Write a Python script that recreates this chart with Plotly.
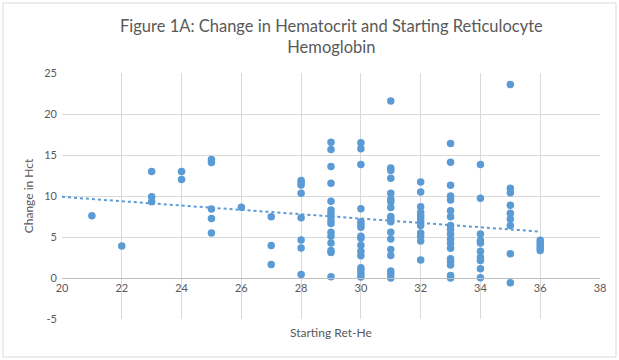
import numpy as np
import plotly.graph_objects as go

# Data (Starting Ret-He, Change in Hct)
ret_he = (
    [21] + [22] + [23]*3 + [24]*2 + [25]*5 + [26] + [27]*3 + [28]*8 +
    [29]*16 + [30]*16 + [31]*18 + [32]*12 + [33]*18 + [34]*10 + [35]*9 + [36]*5
)
change_hct = (
    [7.6] +
    [3.9] +
    [13.0, 9.9, 9.3] +
    [13.0, 12.0] +
    [14.45, 14.1, 8.4, 7.27, 5.5] +
    [8.64] +
    [7.47, 3.95, 1.65] +
    [11.9, 11.6, 11.35, 10.35, 7.35, 4.64, 3.67, 0.44] +
    [16.56, 15.67, 13.6, 11.55, 9.37, 8.28, 7.9, 7.47, 6.98, 6.66, 5.57, 5.09, 4.28, 3.35, 3.1, 0.16] +
    [16.48, 15.75, 13.85, 8.44, 6.86, 6.5, 6.2, 5.09, 4.85, 4.0, 3.27, 2.7, 1.25, 0.92, 0.52, 0.12] +
    [21.6, 13.4, 13.1, 12.16, 10.34, 9.6, 9.3, 8.6, 7.5, 7.2, 6.86, 5.57, 4.76, 3.47, 2.74, 0.85, 0.48, 0.0] +
    [11.7, 10.5, 8.68, 8.0, 7.6, 7.2, 6.8, 6.4, 5.5, 5.09, 4.52, 2.2] +
    [16.4, 14.13, 11.3, 10.0, 9.5, 8.2, 7.47, 6.4, 5.9, 5.37, 4.76, 4.24, 3.63, 2.34, 2.0, 1.6, 0.32, 0.0] +
    [13.85, 9.73, 5.37, 4.56, 4.28, 3.27, 2.54, 2.13, 1.13, 0.04] +
    [23.6, 10.95, 10.4, 8.88, 7.9, 7.2, 6.4, 2.95, -0.57] +
    [4.6, 4.28, 3.95, 3.63, 3.35]
)
x_ticks = [20, 22, 24, 26, 28, 30, 32, 34, 36, 38]
y_ticks = [-5, 0, 5, 10, 15, 20, 25]
y_tick_labels = ["-5", "0", "5", "10", "15", "20", "25"]
trend_x = [20, 36]

title = "Figure 1A: Change in Hematocrit and Starting Reticulocyte<br>Hemoglobin"
x_title = "Starting Ret-He"
y_title = "Change in Hct"

blue = "#5B9BD5"
grey_text = "#595959"
grid = "#d9d9d9"

slope, intercept = np.polyfit(ret_he, change_hct, 1)
trend_y = [slope * v + intercept for v in trend_x]

fig = go.Figure()
fig.add_trace(go.Scatter(
    x=ret_he, y=change_hct, mode="markers",
    marker=dict(color=blue, size=7.5, line=dict(width=0)),
    showlegend=False, hoverinfo="skip"))
fig.add_trace(go.Scatter(
    x=trend_x, y=trend_y, mode="lines",
    line=dict(color=blue, width=2, dash="dot"),
    showlegend=False, hoverinfo="skip"))

font_family = "Lato, 'Open Sans', sans-serif"

L, R, T, B = 62, 19, 73, 41
PW, PH = 619 - L - R, 360 - T - B

fig.update_layout(
    width=619, height=360,
    margin=dict(l=L, r=R, t=T, b=B, autoexpand=False),
    paper_bgcolor="white", plot_bgcolor="white",
    font=dict(family=font_family, color=grey_text, size=11),
    xaxis=dict(range=[20, 38], tickvals=x_ticks, showgrid=True, gridcolor=grid,
               gridwidth=1, zeroline=False, showline=True, linecolor="#bfbfbf",
               anchor="free", position=1/6, ticks="", tickfont=dict(size=11),
               automargin=False, title=None),
    yaxis=dict(range=[-5, 25], tickvals=y_ticks, ticktext=y_tick_labels,
               showgrid=True, gridcolor=grid,
               gridwidth=1, zeroline=False, showline=False, ticks="",
               tickfont=dict(size=11), automargin=False, ticklabelstandoff=4,
               title=dict(text=y_title, font=dict(size=12), standoff=8)),
    annotations=[
        dict(text=title, xref="paper", yref="paper", x=0.5, y=1 + (T - 36) / PH,
             xanchor="center", yanchor="middle", showarrow=False,
             font=dict(size=16.5, color=grey_text, family=font_family)),
        dict(text=x_title, xref="paper", yref="paper", x=0.5, y=0, yshift=-13,
             showarrow=False, font=dict(size=12, color=grey_text), yanchor="middle"),
    ],
)
# outer chart border
fig.add_shape(type="rect", xref="paper", yref="paper",
              x0=-(L - 3) / PW, x1=1 + (R - 3) / PW,
              y0=-(B - 3) / PH, y1=1 + (T - 3) / PH,
              line=dict(color="#d9d9d9", width=1), fillcolor="rgba(0,0,0,0)",
              layer="below")

fig.write_html("out.html", config={"displayModeBar": False},
               post_script="document.body.style.margin='0';document.body.style.overflow='hidden';")
